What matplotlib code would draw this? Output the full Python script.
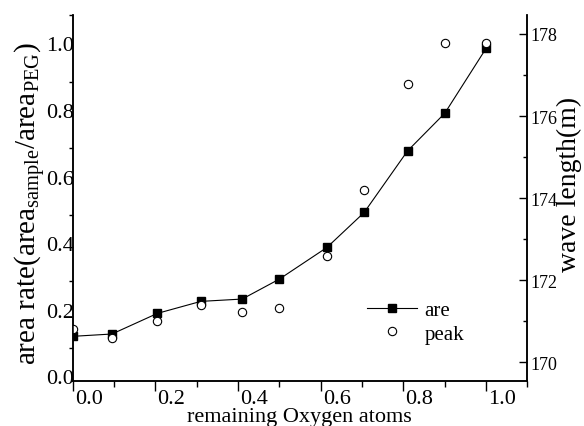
#!/usr/bin/env python3
"""Area rate and peak wave length against remaining oxygen atoms (twin y axes)."""

import matplotlib

matplotlib.use("Agg")
import matplotlib.pyplot as plt
from matplotlib.transforms import ScaledTranslation

# remaining oxygen atoms (x) for both series
oxygen = [0.0, 0.095, 0.205, 0.31, 0.41, 0.50, 0.615, 0.705, 0.81, 0.90, 1.0]
# area rate (area_sample / area_PEG), left axis
area_rate = [0.135, 0.142, 0.204, 0.240, 0.247, 0.307, 0.402, 0.507, 0.692, 0.805, 1.0]
# peak wave length, right axis
peak = [170.81, 170.59, 171.01, 171.40, 171.22, 171.32, 172.60, 174.19, 176.77, 177.78, 177.78]

x_ticks = [0.0, 0.2, 0.4, 0.6, 0.8, 1.0]
x_minor = [0.1, 0.3, 0.5, 0.7, 0.9, 1.1]
left_ticks = [0.0, 0.2, 0.4, 0.6, 0.8, 1.0]
left_minor = [0.1, 0.3, 0.5, 0.7, 0.9, 1.1]
right_ticks = [170, 172, 174, 176, 178]
right_minor = [171, 173, 175, 177]

plt.rcParams["font.family"] = ["Liberation Serif", "DejaVu Serif"]
plt.rcParams["mathtext.fontset"] = "custom"
plt.rcParams["mathtext.rm"] = "Liberation Serif"
plt.rcParams["mathtext.it"] = "Liberation Serif:italic"

FS = 16

fig = plt.figure(figsize=(5.84, 4.27), dpi=100)
ax = fig.add_axes([0.1245, 0.1047, 0.7787, 0.8578])
ax2 = ax.twinx()

line, = ax.plot(oxygen, area_rate, color="black", lw=0.8, marker="s", ms=5.2,
                mfc="black", mec="black", label="are")
pts, = ax2.plot(oxygen, peak, ls="none", marker="o", ms=6, mfc="white",
                mec="black", mew=0.8, label="peak")

ax.set_xlim(0, 1.1)
ax.set_ylim(0, 1.1)
ax2.set_ylim(169.54, 178.46)

for a in (ax, ax2):
    a.spines["top"].set_visible(False)
    for s in ("left", "bottom", "right"):
        a.spines[s].set_linewidth(1.1)

ax.set_xticks(x_ticks)
ax.set_xticks(x_minor, minor=True)
ax.set_xticklabels([f"{v:.1f}" for v in x_ticks], fontsize=FS)
ax.tick_params(axis="x", which="major", direction="out", length=7, width=1, pad=-1.5)
ax.tick_params(axis="x", which="minor", direction="out", length=4, width=1)

ax.set_yticks(left_ticks)
ax.set_yticks(left_minor, minor=True)
ax.set_yticklabels([f"{v:.1f}" for v in left_ticks], fontsize=FS)
ax.tick_params(axis="y", which="major", length=0, pad=-1)
ax.tick_params(axis="y", which="minor", direction="out", length=3, width=1)

ax2.set_yticks(right_ticks)
ax2.set_yticks(right_minor, minor=True)
ax2.set_yticklabels([str(v) for v in right_ticks], fontsize=13)
ax2.tick_params(axis="y", which="major", direction="in", length=6, width=1, pad=2)
ax2.tick_params(axis="y", which="minor", direction="in", length=3, width=1)

# the tick labels of the original sit off their ticks
for lab in ax.get_xticklabels():
    lab.set_transform(lab.get_transform() + ScaledTranslation(16 / 100, 0, fig.dpi_scale_trans))
for lab in ax.get_yticklabels():
    lab.set_transform(lab.get_transform() + ScaledTranslation(0, 5 / 100, fig.dpi_scale_trans))

ax.set_xlabel("remaining Oxygen atoms", fontsize=FS)
ax.xaxis.set_label_coords(0.4976, -0.069)
ax.set_ylabel(r"area rate(area$_{\mathrm{sample}}$/area$_{\mathrm{PEG}}$)", fontsize=21)
ax.yaxis.set_label_coords(-0.055, 0.488)
ax2.set_ylabel("wave length(m)", fontsize=20)
ax2.yaxis.set_label_coords(1.064, 0.539)

ax2.legend([line, pts], ["are", "peak"], loc="center left", bbox_to_anchor=(0.625, 0.162),
           frameon=False, fontsize=15, handlelength=2.4, handletextpad=0.35,
           borderpad=0, labelspacing=0.2)

fig.savefig("out.png", dpi=100)
